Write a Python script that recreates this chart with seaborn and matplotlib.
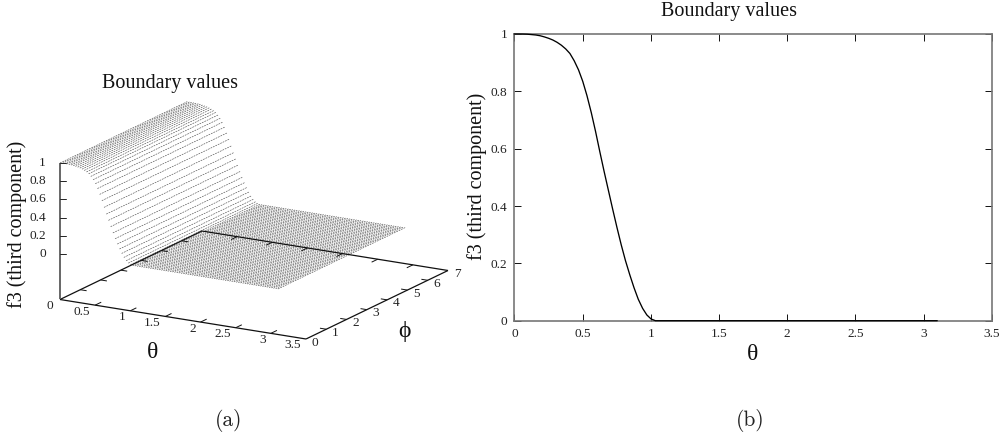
import numpy as np
import pandas as pd
import matplotlib
matplotlib.use("Agg")
import matplotlib.pyplot as plt
import seaborn as sns

theta = [0.000,0.031,0.063,0.094,0.125,0.157,0.188,0.219,0.251,0.282,
         0.313,0.344,0.376,0.407,0.438,0.470,0.501,0.532,0.564,0.595,
         0.626,0.658,0.689,0.720,0.752,0.783,0.814,0.846,0.877,0.908,
         0.940,0.971,1.002,1.034,1.065,1.096,1.127,1.159,1.190,1.221,
         1.253,1.284,1.315,1.347,1.378,1.409,1.441,1.472,1.503,1.534,
         1.566,1.597,1.628,1.660,1.691,1.722,1.754,1.785,1.816,1.847,
         1.879,1.910,1.941,1.973,2.004,2.035,2.067,2.098,2.129,2.160,
         2.192,2.223,2.254,2.286,2.317,2.348,2.380,2.411,2.442,2.473,
         2.505,2.536,2.567,2.599,2.630,2.661,2.693,2.724,2.755,2.786,
         2.818,2.849,2.880,2.912,2.943,2.974,3.006,3.037,3.068,3.100]
f3_rise = [1.0,1.0,0.9998,0.9993,0.998,0.9965,0.994,0.990,0.985,0.979,
           0.971,0.961,0.948,0.932,0.907,0.875,0.835,0.785,0.725,0.66,
           0.59,0.52,0.455,0.39,0.325,0.265,0.21,0.16,0.115,0.075,
           0.043,0.02,0.006,0.0]
f3 = f3_rise + [0.0] * (len(theta) - len(f3_rise))
phi_range = [0.0, 6.28]

title = "Boundary values"
zlabel = "f3 (third component)"
theta_ticks_3d = [0.5, 1, 1.5, 2, 2.5, 3, 3.5]
theta_labels_3d = ["0.5", "1", "1.5", "2", "2.5", "3", "3.5"]
phi_ticks = [0, 1, 2, 3, 4, 5, 6, 7]
z_ticks = [0, 0.2, 0.4, 0.6, 0.8, 1]
z_labels = ["0", "0.2", "0.4", "0.6", "0.8", "1"]
xticks_2d = [0, 0.5, 1, 1.5, 2, 2.5, 3, 3.5]
xlabels_2d = ["0", "0.5", "1", "1.5", "2", "2.5", "3", "3.5"]
yticks_2d = [0, 0.2, 0.4, 0.6, 0.8, 1]
ylabels_2d = ["0", "0.2", "0.4", "0.6", "0.8", "1"]

sns.set_theme(style="white")
SERIF = ["Liberation Serif", "DejaVu Serif"]
plt.rcParams["font.family"] = SERIF

fig = plt.figure(figsize=(10.06, 4.40), dpi=100)
W, H = 1006, 440


def proj(t, p, z=-0.5):
    t, p, z = np.asarray(t, float), np.asarray(p, float), np.asarray(z, float)
    x = 60 + t / 3.5 * 246 + p / 7 * 142
    y = 299.5 + t / 3.5 * 39.5 - p / 7 * 68.5 - (z + 0.5) * 91
    return x, y


# ---- panel (a): projected surface on a pixel-scaled axes
ax3 = fig.add_axes([0, 0, 1, 1])
ax3.set_xlim(0, W)
ax3.set_ylim(H, 0)
ax3.axis("off")

rows = []
for t, v in zip(theta, f3):
    for p in phi_range:
        x, y = proj(t, p, v)
        rows.append({"row": t, "px": float(x), "py": float(y)})
surf = pd.DataFrame(rows)
sns.lineplot(data=surf, x="px", y="py", units="row", estimator=None, sort=False,
             ax=ax3, color="#444444", lw=0.42, linestyle=(0, (3, 1.6)), legend=False)
ax3.set_xlim(0, W)
ax3.set_ylim(H, 0)
ax3.set_xlabel("")
ax3.set_ylabel("")


def seg(a, b, color="#111111", lw=0.9):
    x, y = proj([a[0], b[0]], [a[1], b[1]], -0.5)
    ax3.plot(x, y, color=color, lw=lw, solid_capstyle="butt")


for a, b in [((0, 0), (3.5, 0)), ((3.5, 0), (3.5, 7)), ((3.5, 7), (0, 7)), ((0, 7), (0, 0))]:
    seg(a, b)
for t in theta_ticks_3d[:-1]:
    seg((t, 0), (t, 0.3), lw=0.7)
    seg((t, 7), (t, 6.7), lw=0.7)
for p in phi_ticks[1:-1]:
    seg((3.5, p), (3.41, p), lw=0.7)
    seg((0, p), (0.09, p), lw=0.7)

zx0, zy0 = proj(0, 0, -0.5)
zx1, zy1 = proj(0, 0, 1)
ax3.plot([zx0, zx1], [zy0, zy1], color="#666666", lw=1.4, solid_capstyle="butt")
for z, lab in zip(z_ticks, z_labels):
    x, y = proj(0, 0, z)
    ax3.plot([x, x + 6], [y, y], color="#222222", lw=0.7)
    ax3.text(x - 14, y, lab, ha="right", va="center", fontsize=9.6, color="#222222")

x, y = proj(0, 0)
ax3.text(x - 10, y + 6.5, "0", ha="center", va="center", fontsize=9.6, color="#222222")
for t, lab in zip(theta_ticks_3d, theta_labels_3d):
    x, y = proj(t, 0)
    ax3.text(x - 5, y + 6.5, lab, ha="right", va="center", fontsize=9.6, color="#222222")
for p in phi_ticks:
    x, y = proj(3.5, p)
    ax3.text(x + 6, y + 3.5, str(p), ha="left", va="center", fontsize=9.6, color="#222222")

ax3.text(170, 83.5, title, ha="center", va="center", fontsize=14.5, color="#111111")
ax3.text(17, 224, zlabel, ha="center", va="center", rotation=90, fontsize=14.5, color="#111111")
ax3.text(152.7, 353, "θ", ha="center", va="center", fontsize=17, color="#111111")
ax3.text(404, 332, "ϕ", ha="center", va="center", fontsize=17, color="#111111")
ax3.text(229, 421, "(a)", ha="center", va="center", fontsize=15.5, family="cmr10", color="#222222")
ax3.text(750, 421, "(b)", ha="center", va="center", fontsize=15.5, family="cmr10", color="#222222")

# ---- panel (b)
left, right, top, bottom = 514.4, 991.8, 34.0, 320.7
ax = fig.add_axes([left / W, 1 - bottom / H, (right - left) / W, (bottom - top) / H])
ax.patch.set_alpha(0)
sns.lineplot(x=theta, y=f3, ax=ax, color="black", lw=0.95, clip_on=False, zorder=5, legend=False)
ax.set_xlim(0, 3.5)
ax.set_ylim(0, 1)
ax.set_xticks(xticks_2d, xlabels_2d)
ax.set_yticks(yticks_2d, ylabels_2d)
ax.tick_params(axis="both", which="major", direction="in", length=4.8, width=0.7, color="#111111",
               labelsize=9.6, labelcolor="#222222", top=True, right=True, bottom=True, left=True)
ax.tick_params(axis="x", pad=5.5)
ax.tick_params(axis="y", pad=5)
for s in ax.spines.values():
    s.set_color("#777777")
    s.set_linewidth(1.2)
ax.set_xlabel("")
ax.set_ylabel("")
ax3.text(729, 11.5, title, ha="center", va="center", fontsize=14.5, color="#111111")
ax3.text(752.7, 355, "θ", ha="center", va="center", fontsize=17, color="#111111")
ax3.text(477, 176, zlabel, ha="center", va="center", rotation=90, fontsize=14.5, color="#111111")

fig.savefig("out.png", dpi=100, facecolor="white")
